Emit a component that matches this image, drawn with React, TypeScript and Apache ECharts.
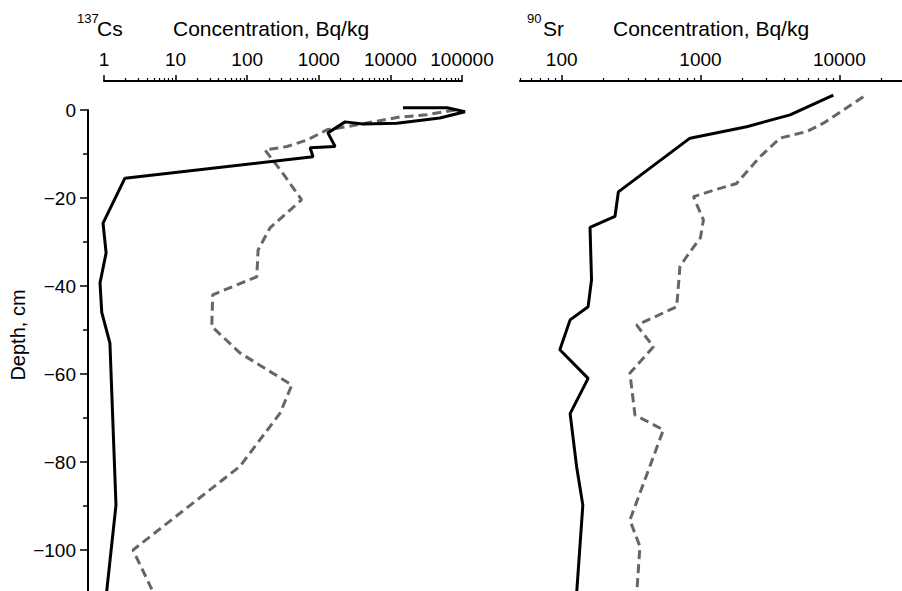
import React, { useEffect, useRef } from "react";
import * as echarts from "echarts";

// ---- 137Cs profile (left panel) ----
const csSolidDepth = [0.5, 0.5, -0.4, -1.8, -3.0, -3.2, -2.7, -5.2, -8.3, -8.6, -10.6, -15.5, -25.7, -32.5, -39.3, -46, -53, -63.6, -89.8, -110];
const csSolidConc = [15000, 62000, 110000, 49000, 12300, 4150, 2330, 1340, 1690, 755, 830, 1.96, 0.97, 1.07, 0.88, 0.93, 1.21, 1.28, 1.47, 1.08];

const csDashDepth = [0, -1.1, -1.6, -2.7, -3.8, -4.5, -6.8, -8.3, -9.1, -13.6, -20.4, -26.8, -31.8, -37.9, -42, -49.2, -55.2, -62.5, -68.9, -81, -100, -110];
const csDashConc = [80000, 32000, 13500, 5700, 2470, 1300, 690, 360, 177, 290, 575, 208, 142, 136, 33, 32, 79, 420, 288, 79, 2.54, 5.0];

// ---- 90Sr profile (right panel) ----
const srSolidDepth = [3.4, -1.1, -3.8, -6.4, -18.6, -24.2, -26.7, -38.6, -44.7, -47.7, -54.5, -61, -69, -81, -89.8, -110];
const srSolidConc = [9060, 4420, 2150, 840, 256, 242, 160, 164, 155, 115, 97, 155, 115, 128, 142, 128];

const srDashDepth = [3, -3, -4.9, -6.4, -10.6, -16.7, -17.8, -19.7, -25, -29, -33.3, -35.6, -44.7, -48.9, -53.8, -59.8, -69.3, -72.7, -93.2, -99.2, -110];
const srDashConc = [14900, 7680, 5820, 3740, 2690, 1820, 1380, 890, 1050, 1000, 795, 711, 674, 347, 458, 310, 337, 540, 310, 366, 347];

// ---- axes ----
const csMajorTicks = [1, 10, 100, 1000, 10000, 100000];
const srMajorTicks = [100, 1000, 10000];
const csRange = [1, 100000];
const srRange = [50, 30000];
const depthTicks = { min: -120, max: 0, interval: 20 };

// ---- layout (pixels) ----
const CS_X0 = 104; // pixel of 10^0 on left panel
const CS_DEC = 71.6; // px per decade, left panel
const SR_X2 = 561.7; // pixel of 10^2 on right panel
const SR_DEC = 138.8; // px per decade, right panel
const TOP = 110; // pixel of depth 0
const PX_PER_CM = 4.4;

// wider plotting extents for the data layers (log10 units / cm)
const csPlotLog = [-0.2, 5.2];
const srPlotLog = [1.5, 4.6];
const plotDepth = [-120, 10];

const FONT = '"Liberation Sans", Arial, Helvetica, sans-serif';

function minorTicksFor(lo: number, hi: number): number[] {
  const out: number[] = [];
  for (let e = -1; e <= 6; e++) {
    const d = Math.pow(10, e);
    for (let m = 2; m <= 9; m++) {
      const v = m * d;
      if (v >= lo && v <= hi) out.push(Math.log10(v));
    }
  }
  return out;
}

const toPts = (conc: number[], depth: number[]) =>
  conc.map((c, i) => [Math.log10(c), depth[i]]);

const fmtPow = (v: number) => String(Math.round(Math.pow(10, v)));

function majorX(gridIndex: number, range: number[], ticks: number[]) {
  const vals = ticks.map((t) => Math.log10(t));
  return {
    type: "value",
    gridIndex,
    position: "top",
    offset: 29,
    min: Math.log10(range[0]),
    max: Math.log10(range[1]),
    axisLine: { show: true, onZero: false, lineStyle: { color: "#000", width: 2 } },
    axisTick: { show: true, customValues: vals, length: 6, lineStyle: { color: "#000", width: 1.5 } },
    axisLabel: {
      show: true,
      customValues: vals,
      formatter: fmtPow,
      fontSize: 19,
      fontFamily: FONT,
      color: "#000",
      margin: 12,
    },
    splitLine: { show: false },
  };
}

function minorX(gridIndex: number, range: number[]) {
  return {
    type: "value",
    gridIndex,
    position: "top",
    offset: 29,
    min: Math.log10(range[0]),
    max: Math.log10(range[1]),
    axisLine: { show: false, onZero: false },
    axisTick: {
      show: true,
      customValues: minorTicksFor(range[0], range[1]),
      length: 3,
      lineStyle: { color: "#000", width: 1.2 },
    },
    axisLabel: { show: false },
    splitLine: { show: false },
  };
}

function hiddenX(gridIndex: number, ext: number[]) {
  return { type: "value", gridIndex, show: false, min: ext[0], max: ext[1], axisLine: { onZero: false }, splitLine: { show: false } };
}
function hiddenY(gridIndex: number, ext: number[]) {
  return { type: "value", gridIndex, show: false, min: ext[0], max: ext[1], axisLine: { onZero: false }, splitLine: { show: false } };
}

export default function App() {
  const ref = useRef<HTMLDivElement>(null);

  useEffect(() => {
    if (!ref.current) return;
    const chart = echarts.init(ref.current, undefined, { renderer: "svg" });

    const solid = { color: "#000", width: 3, type: "solid" as const };
    const dash = { color: "#666", width: 3, type: [9, 5] as any };

    const gBase = { containLabel: false, outerBoundsMode: "none" };
    const axisH = (depthTicks.max - depthTicks.min) * PX_PER_CM;
    const csL = CS_X0 + Math.log10(csRange[0]) * CS_DEC;
    const csW = (Math.log10(csRange[1]) - Math.log10(csRange[0])) * CS_DEC;
    const srL = SR_X2 + (Math.log10(srRange[0]) - 2) * SR_DEC;
    const srW = (Math.log10(srRange[1]) - Math.log10(srRange[0])) * SR_DEC;
    const plotTop = TOP - plotDepth[1] * PX_PER_CM;
    const plotH = (plotDepth[1] - plotDepth[0]) * PX_PER_CM;

    const line = (xi: number, yi: number, data: number[][], style: any) => ({
      type: "line",
      xAxisIndex: xi,
      yAxisIndex: yi,
      data,
      showSymbol: false,
      symbol: "none",
      clip: false,
      lineStyle: style,
    });

    chart.setOption({
      animation: false,
      backgroundColor: "#fff",
      grid: [
        { ...gBase, left: csL, top: TOP, width: csW, height: axisH },
        { ...gBase, left: srL, top: TOP, width: srW, height: axisH },
        { ...gBase, left: CS_X0 + csPlotLog[0] * CS_DEC, top: plotTop, width: (csPlotLog[1] - csPlotLog[0]) * CS_DEC, height: plotH },
        { ...gBase, left: SR_X2 + (srPlotLog[0] - 2) * SR_DEC, top: plotTop, width: (srPlotLog[1] - srPlotLog[0]) * SR_DEC, height: plotH },
      ],
      xAxis: [
        majorX(0, csRange, csMajorTicks),
        minorX(0, csRange),
        majorX(1, srRange, srMajorTicks),
        minorX(1, srRange),
        hiddenX(2, csPlotLog),
        hiddenX(3, srPlotLog),
      ],
      yAxis: [
        {
          type: "value",
          gridIndex: 0,
          position: "left",
          offset: 16,
          min: depthTicks.min,
          max: depthTicks.max,
          interval: depthTicks.interval,
          axisLine: { show: true, onZero: false, lineStyle: { color: "#000", width: 2 } },
          axisTick: { show: true, length: 8, lineStyle: { color: "#000", width: 1.5 } },
          minorTick: { show: true, splitNumber: 2, length: 5, lineStyle: { color: "#000", width: 1.5 } },
          axisLabel: {
            fontSize: 19,
            fontFamily: FONT,
            color: "#000",
            margin: 12,
            showMinLabel: false,
            formatter: (v: number) => (v < -110 ? "" : v < 0 ? "\u2212" + Math.abs(v) : String(v)),
          },
          splitLine: { show: false },
          minorSplitLine: { show: false },
        },
        hiddenY(1, [depthTicks.min, depthTicks.max]),
        hiddenY(2, plotDepth),
        hiddenY(3, plotDepth),
      ],
      series: [
        line(4, 2, toPts(csDashConc, csDashDepth), dash),
        line(4, 2, toPts(csSolidConc, csSolidDepth), solid),
        line(5, 3, toPts(srDashConc, srDashDepth), dash),
        line(5, 3, toPts(srSolidConc, srSolidDepth), solid),
      ],
      graphic: [
        { type: "text", x: 77, y: 18, style: { text: "137", font: `13px ${FONT}`, fill: "#000", textVerticalAlign: "middle" } },
        { type: "text", x: 97, y: 28, style: { text: "Cs", font: `21px ${FONT}`, fill: "#000", textVerticalAlign: "middle" } },
        { type: "text", x: 173, y: 28, style: { text: "Concentration, Bq/kg", font: `21px ${FONT}`, fill: "#000", textVerticalAlign: "middle" } },
        { type: "text", x: 527, y: 18, style: { text: "90", font: `13px ${FONT}`, fill: "#000", textVerticalAlign: "middle" } },
        { type: "text", x: 543, y: 28, style: { text: "Sr", font: `21px ${FONT}`, fill: "#000", textVerticalAlign: "middle" } },
        { type: "text", x: 613, y: 28, style: { text: "Concentration, Bq/kg", font: `21px ${FONT}`, fill: "#000", textVerticalAlign: "middle" } },
        {
          type: "text",
          x: 18,
          y: 335,
          rotation: Math.PI / 2,
          style: { text: "Depth, cm", font: `20px ${FONT}`, fill: "#000", textAlign: "center", textVerticalAlign: "middle" },
        },
      ],
    });

    return () => chart.dispose();
  }, []);

  return (
    <div
      ref={ref}
      style={{ position: "fixed", left: 0, top: 0, width: 902, height: 591, background: "#fff" }}
    />
  );
}
